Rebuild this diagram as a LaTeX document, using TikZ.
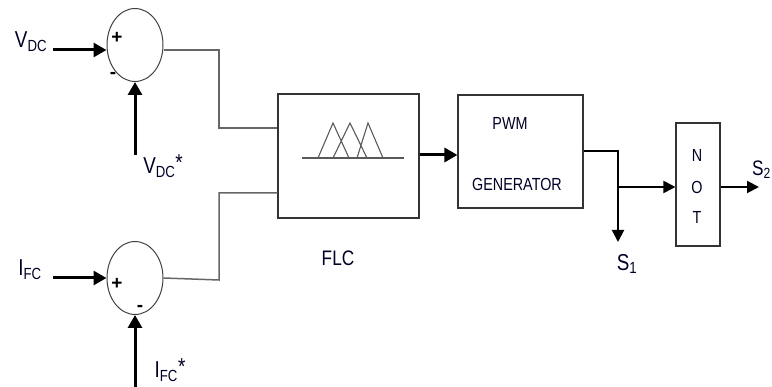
\documentclass[tikz,border=0pt]{standalone}
\usepackage{fontspec}
\setmainfont{Liberation Sans}
\newfontfamily\nar[FakeStretch=0.82]{Liberation Sans}
\usetikzlibrary{shapes.geometric,arrows.meta}
\begin{document}
\begin{tikzpicture}[x=1pt,y=-1pt,
  sumnode/.style={draw=black!75,line width=1pt,ellipse,minimum width=56pt,minimum height=73pt,inner sep=0pt},
  blk/.style={draw=black!80,line width=1.1pt,rectangle,inner sep=0pt},
  bigarrow/.style={line width=3pt,-{Triangle[length=13pt,width=14pt]}},
  medarrow/.style={line width=2pt,-{Triangle[length=12pt,width=12pt]}},
  wire/.style={draw=black!60,line width=1.5pt},
  sgn/.style={font=\bfseries\fontsize{19}{19}\selectfont,inner sep=0pt},
  lbl/.style={font=\nar\fontsize{23}{25}\selectfont,inner sep=0pt,text=black!85!blue},
  mlbl/.style={font=\nar\fontsize{21}{23}\selectfont,inner sep=0pt,text=black!85!blue},
  sml/.style={font=\nar\fontsize{17.5}{19}\selectfont,inner sep=0pt,text=black!85!blue}]
\useasboundingbox (0,0) rectangle (772,387);
\clip (0,0) rectangle (772,387);
% summing junctions
\node[sumnode] (s1) at (135,45) {};
\node[sumnode] (s2) at (135,278) {};
% blocks
\node[blk,minimum width=141pt,minimum height=124pt] (flc) at (348.5,156) {};
\node[blk,minimum width=125pt,minimum height=113pt] (pwm) at (520.5,151.5) {};
\node[blk,minimum width=44pt,minimum height=123pt] (nt) at (698,184.5) {};
% inputs
\coordinate (vin) at (53,50);
\coordinate (vref) at (135,155);
\coordinate (iin) at (53,278);
\coordinate (iref) at (135,392);
\draw[bigarrow] (vin) -- (s1.west |- vin);
\draw[bigarrow] (vref) -- (s1.south);
\draw[bigarrow] (iin) -- (s2.west);
\draw[bigarrow] (iref) -- (s2.south);
% signs
\node[sgn] (p1) at (117,38) {+};
\node[sgn] (m1) at (113,75) {-};
\node[sgn] (p2) at (117,284) {+};
\node[sgn] (m2) at (140,308) {-};
% labels
\node[lbl] (lv) at (31,42) {V\textsubscript{DC}};
\node[lbl] (lvr) at (163,166) {V\textsubscript{DC}\raisebox{3pt}{*}};
\node[lbl] (li) at (30,270) {I\textsubscript{FC}};
\node[lbl] (lir) at (170,370) {I\textsubscript{FC}\raisebox{3pt}{*}};
% wires from summing junctions to FLC
\coordinate (c1) at (219,50);
\coordinate (c2) at (219,280);
\draw[wire] (s1.east |- c1) -- (c1) -- (219,128) -- (flc.west |- 0,128);
\draw[wire] (s2.east) -- (c2) -- (219,193) -- (flc.west |- 0,193);
% fuzzy membership functions
\draw[draw=black!65,line width=1.2pt] (302,158) -- (404,158);
\draw[draw=black!65,line width=1.1pt] (318,158) -- (333,123) -- (349,158)
  (333,158) -- (350,123) -- (367,158)
  (357,158) -- (368,123) -- (383,158);
\node[mlbl] (lflc) at (338,258) {FLC};
% FLC -> PWM
\draw[bigarrow] (flc.east |- 0,155) -- (pwm.west |- 0,155);
\node[sml] (lpwm) at (510,123) {PWM};
\node[sml] (lgen) at (517,184) {GENERATOR};
% PWM output
\coordinate (br) at (618,151);
\coordinate (jn) at (618,187);
\coordinate (s1end) at (618,242);
\draw[line width=1.5pt] (pwm.east |- br) -- (br) -- (jn);
\draw[medarrow] (jn) -- (s1end);
\draw[medarrow] (jn) -- (nt.west |- jn);
\node[lbl] (ls1) at (627,264) {S\textsubscript{1}};
% NOT
\node[sml] (ln) at (697,155) {N};
\node[sml] (lo) at (697,187) {O};
\node[sml] (lt) at (697,217) {T};
\coordinate (s2end) at (759,187);
\draw[medarrow] (nt.east |- s2end) -- (s2end);
\node[mlbl,anchor=east] (ls2) at (771,170) {S\textsubscript{2}};
\end{tikzpicture}
\end{document}
